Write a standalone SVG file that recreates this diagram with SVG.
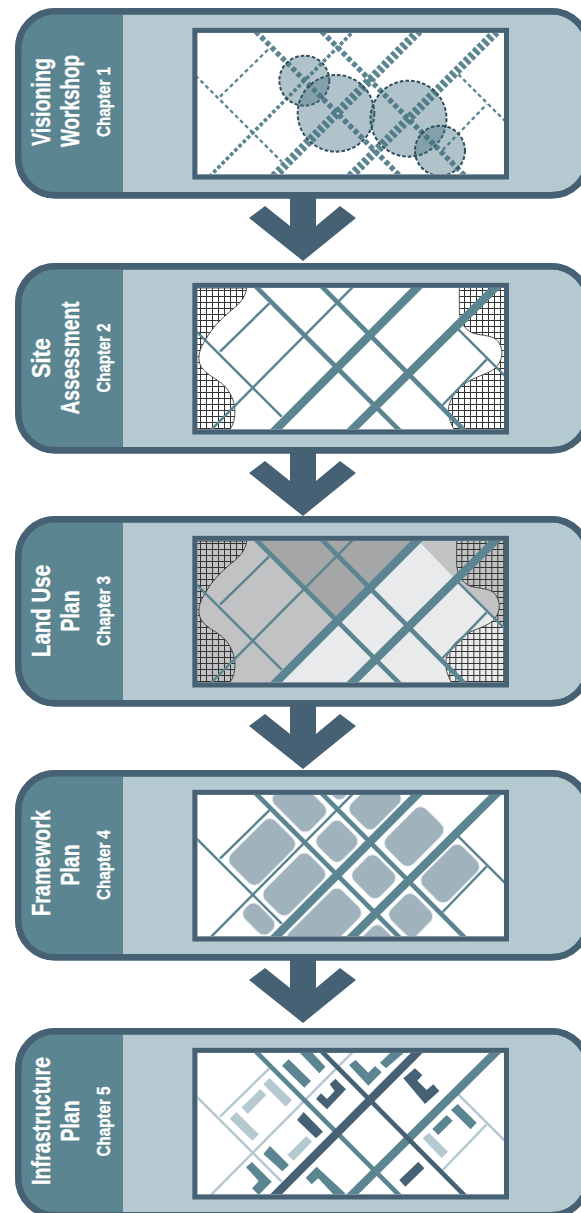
<svg xmlns="http://www.w3.org/2000/svg" width="581" height="1213" viewBox="0 0 581 1213">
<style>
.card{fill:#b5c9d0;stroke:#466173;stroke-width:6.5}
.cardo{fill:none;stroke:#466173;stroke-width:6.5}
.band{fill:#5b8590}
.frame{fill:none;stroke:#466173;stroke-width:15}
.bg{fill:#fff}
text{font-family:"Liberation Sans",Arial,sans-serif;font-weight:700;fill:#fff;text-anchor:middle;stroke:#fff;stroke-width:.35}
.t{font-size:25px}
.c{font-size:17.5px}
.arrow{fill:#466173}
.r{fill:none;stroke:#5b8590}
.thick{stroke-width:25}
.mid{stroke-width:14}
.thin{stroke-width:7.5}
.light{stroke:#b5c9d0}
.dark{stroke:#466173}
.d1{stroke-dasharray:12 7.5;stroke-width:27}
.d2{stroke-dasharray:14 8;stroke-width:16}
.d3{stroke-dasharray:11 7;stroke-width:11}
.d4{stroke-dasharray:12 9;stroke-width:7}
.hatch{fill:url(#grid);stroke:#333;stroke-width:2.5}
.grey{fill:#c1c2c4}
.dk{fill:#a5a6a8}
.lt{fill:#e9eaec}
.blk{fill:#a0b3bd;stroke:#e6ecee;stroke-width:3}
.bub{fill:#466f80;fill-opacity:.42;stroke:#2f4f60;stroke-width:6;stroke-dasharray:11 6}
.bt{fill:#5b8590}
.bd{fill:#466173}
.bl{fill:#b5c9d0}
</style>
<defs>
<clipPath id="fc"><rect x="52" y="54" width="920" height="424"/></clipPath>
<pattern id="grid" width="18" height="18" patternUnits="userSpaceOnUse">
<path d="M0 7.5H18M7.5 0V18" fill="none" stroke="#333" stroke-width="3"/>
</pattern>
<path id="rA" d="M268 498L730 34"/>
<path id="rB" d="M497 498L965 34"/>
<path id="rC" d="M75 498L535 34"/>
<path id="rD" d="M120 245L268 100"/>
<path id="rE" d="M788 405L920 268"/>
<path id="rF" d="M212 34L675 498"/>
<path id="rG" d="M410 34L870 498"/>
<path id="rH" d="M32 167L305 440"/>
<path id="rI" d="M835 178L995 338"/>
<path id="hl" d="M200 54C198 75 185 95 165 112C130 140 105 165 85 195C70 220 55 240 57 270C60 305 100 320 125 340C150 360 165 395 165 425C165 445 160 465 150 478H40V54Z"/>
<path id="hr" d="M838 54V120C838 150 850 178 880 190C910 198 940 195 955 215C975 245 965 275 945 295C920 315 880 320 850 345C825 365 805 395 805 420C805 445 815 465 822 478H990V40H838Z"/>
<path id="bandp" d="M123 11.3H55.3A37 37 0 0 0 18.3 48.3V158.3A37 37 0 0 0 55.3 195.3H123Z"/>
<rect id="cardr" x="18.3" y="11.3" width="570" height="184" rx="37"/>
<rect id="frm" x="44.5" y="46" width="935" height="440"/>
<rect id="fbg" x="52" y="54" width="920" height="424"/>
<path id="arw" d="M290 198H316V226L340 206L356 218L303 261L249 218L265 206L290 226Z"/>
</defs>

<g id="connectors">
<use href="#arw" class="arrow"/>
<use href="#arw" class="arrow" y="255"/>
<use href="#arw" class="arrow" y="508"/>
<use href="#arw" class="arrow" y="762"/>
</g>

<g id="node-visioning">
<use href="#cardr" class="card"/><use href="#bandp" class="band"/><use href="#cardr" class="cardo"/>
<text class="t" transform="translate(50 102) rotate(-90)" textLength="88" lengthAdjust="spacingAndGlyphs">Visioning</text>
<text class="t" transform="translate(78.5 101) rotate(-90)" textLength="92" lengthAdjust="spacingAndGlyphs">Workshop</text>
<text class="c" transform="translate(109.5 102) rotate(-90)" textLength="70" lengthAdjust="spacingAndGlyphs">Chapter 1</text>
<g transform="translate(180 15) scale(.33333)">
<use href="#fbg" class="bg"/>
<g clip-path="url(#fc)">
<use href="#rD" class="r d4"/><use href="#rE" class="r d4"/><use href="#rH" class="r d4"/><use href="#rI" class="r d4"/>
<use href="#rC" class="r d3"/>
<use href="#rF" class="r d2"/><use href="#rG" class="r d2"/>
<use href="#rA" class="r d1"/><use href="#rB" class="r d1"/>
<circle class="bub" cx="373" cy="197" r="75"/>
<circle class="bub" cx="468" cy="295" r="115"/>
<circle class="bub" cx="685.5" cy="311" r="114"/>
<circle class="bub" cx="780" cy="407" r="75"/>
</g>
<use href="#frm" class="frame"/>
</g>
</g>

<g id="node-site" transform="translate(0 255)">
<use href="#cardr" class="card"/><use href="#bandp" class="band"/><use href="#cardr" class="cardo"/>
<text class="t" transform="translate(50 103) rotate(-90)" textLength="40" lengthAdjust="spacingAndGlyphs">Site</text>
<text class="t" transform="translate(78.5 103) rotate(-90)" textLength="113" lengthAdjust="spacingAndGlyphs">Assessment</text>
<text class="c" transform="translate(109.5 103) rotate(-90)" textLength="69" lengthAdjust="spacingAndGlyphs">Chapter 2</text>
<g transform="translate(180 15) scale(.33333)">
<use href="#fbg" class="bg"/>
<g clip-path="url(#fc)">
<use href="#hl" class="hatch"/><use href="#hr" class="hatch"/>
<use href="#rC" class="r thin"/><use href="#rD" class="r thin"/><use href="#rE" class="r thin"/><use href="#rH" class="r thin"/><use href="#rI" class="r thin"/>
<use href="#rF" class="r mid"/><use href="#rG" class="r mid"/>
<use href="#rA" class="r thick"/><use href="#rB" class="r thick"/>
</g>
<use href="#frm" class="frame"/>
</g>
</g>

<g id="node-landuse" transform="translate(0 508)">
<use href="#cardr" class="card"/><use href="#bandp" class="band"/><use href="#cardr" class="cardo"/>
<text class="t" transform="translate(50 103) rotate(-90)" textLength="92" lengthAdjust="spacingAndGlyphs">Land Use</text>
<text class="t" transform="translate(78.5 103) rotate(-90)" textLength="41" lengthAdjust="spacingAndGlyphs">Plan</text>
<text class="c" transform="translate(109.5 103) rotate(-90)" textLength="70" lengthAdjust="spacingAndGlyphs">Chapter 3</text>
<g transform="translate(180 15) scale(.33333)">
<use href="#fbg" class="grey"/>
<g clip-path="url(#fc)">
<polygon class="dk" points="228,54 710,54 468,290"/>
<polygon class="lt" points="712,50 835,178 995,338 995,490 280,490"/>
<use href="#hl" class="hatch"/><use href="#hr" class="hatch" x="-8"/>
<use href="#rC" class="r thin"/><use href="#rD" class="r thin"/><use href="#rE" class="r thin"/><use href="#rH" class="r thin"/><use href="#rI" class="r thin"/>
<use href="#rF" class="r mid"/><use href="#rG" class="r mid"/>
<use href="#rA" class="r thick"/><use href="#rB" class="r thick"/>
</g>
<use href="#frm" class="frame"/>
</g>
</g>

<g id="node-framework" transform="translate(0 762)">
<use href="#cardr" class="card"/><use href="#bandp" class="band"/><use href="#cardr" class="cardo"/>
<text class="t" transform="translate(50 101) rotate(-90)" textLength="106" lengthAdjust="spacingAndGlyphs">Framework</text>
<text class="t" transform="translate(78.5 103) rotate(-90)" textLength="41" lengthAdjust="spacingAndGlyphs">Plan</text>
<text class="c" transform="translate(109.5 103) rotate(-90)" textLength="70" lengthAdjust="spacingAndGlyphs">Chapter 4</text>
<g transform="translate(180 15) scale(.33333)">
<use href="#fbg" class="bg"/>
<g clip-path="url(#fc)">
<use href="#rC" class="r thin"/><use href="#rD" class="r thin"/><use href="#rE" class="r thin"/><use href="#rH" class="r thin"/><use href="#rI" class="r thin"/>
<use href="#rF" class="r mid"/><use href="#rG" class="r mid"/>
<use href="#rA" class="r thick"/><use href="#rB" class="r thick"/>
<g transform="translate(0 8)">
<rect class="blk" x="-94" y="-62" width="189" height="124" rx="26" transform="translate(246 217) rotate(-45)"/>
<rect class="blk" x="-95" y="-52" width="191" height="105" rx="26" transform="translate(342 314) rotate(-45)"/>
<rect class="blk" x="-52" y="-77" width="104" height="154" rx="24" transform="translate(358 76) rotate(-45)"/>
<rect class="blk" x="-35" y="-35" width="70" height="70" rx="20" transform="translate(478 19) rotate(-45)"/>
<rect class="blk" x="-73" y="-51" width="146" height="103" rx="24" transform="translate(585 72) rotate(-45)"/>
<rect class="blk" x="-51" y="-51" width="103" height="103" rx="24" transform="translate(470 185) rotate(-45)"/>
<rect class="blk" x="-84" y="-57" width="169" height="114" rx="26" transform="translate(702 171) rotate(-45)"/>
<rect class="blk" x="-51" y="-56" width="102" height="112" rx="24" transform="translate(581 291) rotate(-45)"/>
<rect class="blk" x="-84" y="-55" width="169" height="110" rx="26" transform="translate(810 282) rotate(-45)"/>
<rect class="blk" x="-30" y="-52" width="60" height="105" rx="25" transform="translate(236 418) rotate(-45)"/>
<rect class="blk" x="-115" y="-59" width="230" height="119" rx="26" transform="translate(431 438) rotate(-45)"/>
<rect class="blk" x="-52" y="-55" width="104" height="111" rx="24" transform="translate(692 407) rotate(-45)"/>
<rect class="blk" x="-50" y="-50" width="100" height="100" rx="22" transform="translate(592 497) rotate(-45)"/>
</g>
</g>
<use href="#frm" class="frame"/>
</g>
</g>

<g id="node-infrastructure" transform="translate(0 1020)">
<use href="#cardr" class="card"/><use href="#bandp" class="band"/><use href="#cardr" class="cardo"/>
<text class="t" transform="translate(50 101) rotate(-90)" textLength="128" lengthAdjust="spacingAndGlyphs">Infrastructure</text>
<text class="t" transform="translate(78.5 101) rotate(-90)" textLength="41" lengthAdjust="spacingAndGlyphs">Plan</text>
<text class="c" transform="translate(109.5 101.5) rotate(-90)" textLength="70" lengthAdjust="spacingAndGlyphs">Chapter 5</text>
<g transform="translate(180 15) scale(.33333)">
<use href="#fbg" class="bg"/>
<g clip-path="url(#fc)">
<use href="#rC" class="r thin light"/><use href="#rD" class="r thin light"/><use href="#rE" class="r thin light"/><use href="#rH" class="r thin light"/><use href="#rI" class="r thin light"/>
<use href="#rF" class="r mid"/><use href="#rB" class="r thick"/>
<use href="#rA" class="r thick dark"/><use href="#rG" class="r mid dark"/>
<g transform="translate(51 45)">
<polygon class="bt" points="255,47 275,28 342,93 322,113"/>
<polygon class="bt" points="305,5 325,-15 385,50 367,70"/>
<polygon class="bt" points="199,312 219,288 276,345 256,364"/>
<polygon class="bd" points="300,210 320,186 378,245 357,265"/>
<polygon class="bd" points="357,147 372,130 390,147 413,123 398,103 415,86 447,118 390,178"/>
<polygon class="bl" points="199,103 218,84 285,150 266,170"/>
<polygon class="bl" points="134,172 190,117 208,135 152,192"/>
<polygon class="bl" points="98,206 118,186 186,253 166,272"/>
<polygon class="bl" points="271,315 328,258 345,275 290,332"/>
<polygon class="bt" points="147,352 165,336 224,395 185,435 165,415 185,393"/>
<polygon class="bt" points="359,350 326,383 344,403 364,385 420,445 445,430"/>
</g>
<g transform="translate(510 45)">
<polygon class="bt" points="-3,45 17,30 55,68 75,48 95,67 55,107"/>
<polygon class="bt" points="90,38 135,-5 160,10 108,55"/>
<polygon class="bd" points="160,85 195,55 217,75 202,92 230,120 250,103 268,123 225,162"/>
<polygon class="bd" points="148,390 205,335 223,355 166,410"/>
<polygon class="bt" points="303,180 323,162 380,218 362,238"/>
<polygon class="bt" points="247,237 290,195 308,212 265,255"/>
<polygon class="bl" points="218,265 237,248 294,305 275,325"/>
</g>
</g>
<use href="#frm" class="frame"/>
</g>
</g>
</svg>
